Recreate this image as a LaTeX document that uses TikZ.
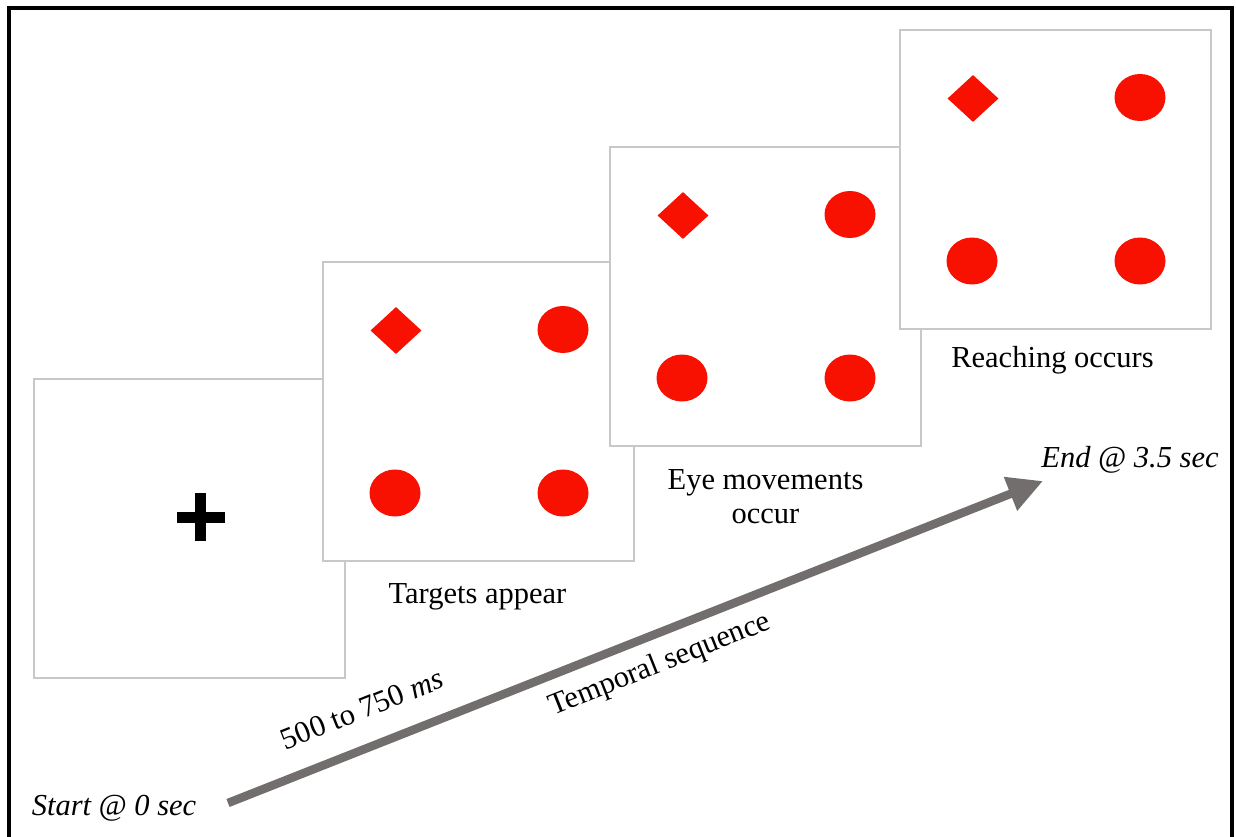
\documentclass[tikz,border=0pt]{standalone}
\usepackage{fontspec}
\setmainfont{Liberation Serif}
\usetikzlibrary{shapes.geometric,arrows.meta,calc}
\definecolor{panelgray}{RGB}{200,200,200}
\definecolor{tred}{RGB}{248,16,0}
\definecolor{arrowgray}{RGB}{115,110,110}
\newcommand\stimuli[1]{%
  \node[dmd] (#1d) at ($(#1.north west)+(73,68.5)$) {};
  \node[dot] (#1a) at ($(#1.north west)+(240,67.5)$) {};
  \node[dot] (#1b) at ($(#1.north west)+(72,231)$) {};
  \node[dot] (#1c) at ($(#1.north west)+(240,231)$) {};}
\begin{document}
\begin{tikzpicture}[x=1pt,y=-1pt,
  panel/.style={draw=panelgray, line width=1.5pt, fill=white, minimum width=311pt, minimum height=299pt, anchor=north west, inner sep=0pt, outer sep=0pt},
  dmd/.style={diamond, fill=tred, minimum width=51pt, minimum height=47pt, inner sep=0pt},
  dot/.style={ellipse, fill=tred, minimum width=51pt, minimum height=47pt, inner sep=0pt},
  lbl/.style={font=\fontsize{30.5}{34}\selectfont, inner sep=0pt, anchor=base},
  ilbl/.style={lbl, font=\fontsize{30.5}{34}\selectfont\itshape},
  rlbl/.style={font=\fontsize{30.5}{34}\selectfont, inner sep=0pt, anchor=center, rotate=21.7},
  timeline/.style={draw=arrowgray, line width=8.5pt, -{Triangle[length=35pt,width=34pt]}}
]
\useasboundingbox (0,0) rectangle (1236,837);
\fill[white] (0,0) rectangle (1236,837);
\draw[line width=4pt] (9,8) rectangle (1232,838.5);
% panel 1: fixation
\node[panel] (p1) at (34,379) {};
\fill ($(p1.north west)+(142.7,132.5)$) rectangle +(48,11.6);
\fill ($(p1.north west)+(161.2,114.3)$) rectangle +(11,48);
% panel 2
\node[panel] (p2) at (323,262) {};
\stimuli{p2}
% panel 3
\node[panel] (p3) at (610,147) {};
\stimuli{p3}
% panel 4
\node[panel] (p4) at (900,30) {};
\stimuli{p4}
% captions
\node[lbl] (cap2) at (477.5,603) {Targets appear};
\node[lbl] (cap3a) at (765.5,489) {Eye movements};
\node[lbl] (cap3b) at (765.5,523) {occur};
\node[lbl] (cap4) at (1052.5,367) {Reaching occurs};
% timeline
\node[ilbl] (start) at (114,815) {Start @ 0 sec};
\node[ilbl] (end) at (1130,467) {End @ 3.5 sec};
\coordinate (tail) at (228,803);
\coordinate (tip) at (1043,481);
\draw[timeline] (tail) -- (tip);
\node[rlbl] (dur) at (362,709) {500 to 750 \textit{ms}};
\node[rlbl] (seq) at (660,665) {Temporal sequence};
\end{tikzpicture}
\end{document}
